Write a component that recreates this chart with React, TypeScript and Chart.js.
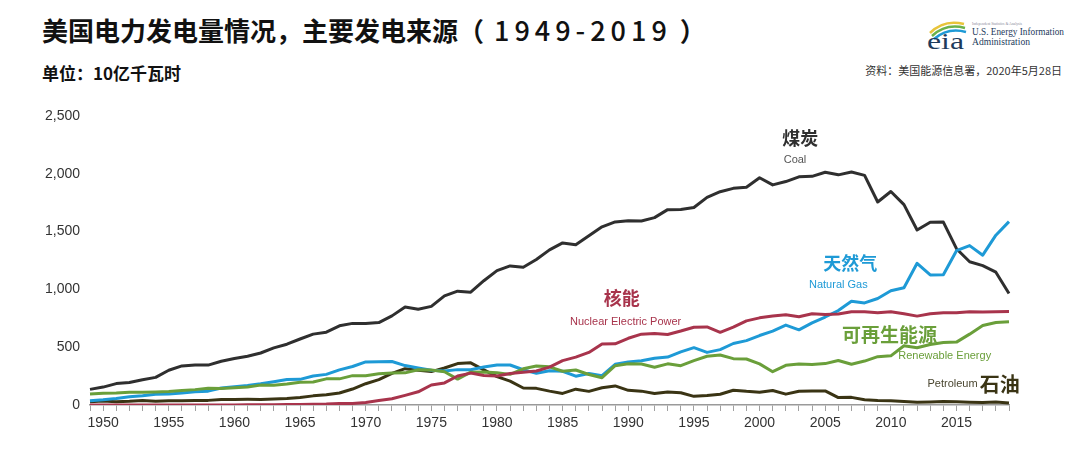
import { useEffect, useRef } from "react";
import { Chart, registerables } from "chart.js";

Chart.register(...registerables);

// 年份 1949-2019
const years: number[] = [];
for (let y = 1949; y <= 2019; y++) years.push(y);

// 单位：10亿千瓦时
const coal = [
  135, 155, 185, 195, 219, 239, 301, 338, 346, 345, 378, 403, 422, 450, 494, 526, 571, 613, 630, 685, 706,
  704, 713, 771, 848, 828, 853, 944, 985, 976, 1075, 1162, 1203, 1192, 1259, 1342, 1402, 1386, 1464, 1541,
  1584, 1594, 1592, 1621, 1690, 1691, 1709, 1796, 1845, 1874, 1884, 1966, 1904, 1933, 1974, 1978, 2013,
  1991, 2016, 1986, 1756, 1847, 1733, 1514, 1581, 1582, 1352, 1239, 1206, 1149, 965,
];
const naturalGas = [
  37, 45, 57, 72, 81, 93, 95, 104, 114, 120, 147, 158, 169, 184, 202, 220, 222, 251, 265, 304, 333, 373,
  374, 376, 341, 320, 300, 295, 306, 305, 329, 346, 346, 305, 274, 297, 292, 249, 273, 253, 352, 373, 382,
  404, 415, 460, 496, 455, 479, 532, 557, 601, 639, 691, 650, 711, 761, 817, 897, 883, 921, 988, 1014,
  1226, 1125, 1127, 1335, 1379, 1296, 1469, 1586,
];
const nuclear = [
  0, 0, 0, 0, 0, 0, 0, 0, 0, 0.2, 0.2, 0.5, 1.7, 2.3, 3.2, 3.3, 3.7, 5.5, 7.7, 12.5, 13.9, 21.8, 38.1,
  54.1, 83.5, 114, 173, 191, 251, 276, 255, 251, 273, 283, 294, 328, 384, 414, 455, 527, 529, 577, 613,
  619, 610, 640, 673, 675, 629, 673, 728, 754, 769, 780, 764, 789, 782, 787, 806, 806, 799, 807, 790, 769,
  789, 797, 797, 806, 805, 807, 809,
];
const renewable = [
  95, 102, 104, 110, 110, 113, 117, 125, 133, 145, 142, 150, 156, 172, 170, 181, 197, 199, 226, 226, 254,
  253, 270, 277, 278, 305, 303, 288, 224, 284, 285, 280, 265, 313, 337, 330, 292, 303, 264, 236, 340, 357,
  354, 327, 356, 340, 384, 422, 433, 401, 398, 356, 288, 343, 355, 351, 358, 385, 352, 380, 418, 425, 513,
  495, 523, 540, 544, 613, 687, 714, 720,
];
const petroleum = [
  29, 34, 29, 32, 38, 32, 37, 37, 40, 40, 47, 48, 49, 48, 52, 57, 65, 79, 89, 104, 138, 184, 220, 274, 314,
  301, 289, 320, 358, 365, 304, 246, 206, 147, 144, 120, 100, 137, 118, 149, 165, 127, 120, 100, 113, 106,
  75, 82, 93, 128, 118, 111, 125, 94, 119, 121, 122, 64, 66, 46, 39, 37, 30, 23, 27, 30, 28, 24, 21, 25, 18,
];

const yTicks = [0, 500, 1000, 1500, 2000, 2500];

const COAL = "#2f2f2f";
const GAS = "#1e9ad6";
const NUC = "#a8344c";
const REN = "#6a9f3a";
const OIL = "#3a3414";

// 图内标注：文字、颜色、字号、粗细、锚点（年份, 数值）
const notes = [
  { text: "煤炭", color: COAL, size: 18, bold: true, year: 2003.1, value: 2310 },
  { text: "Coal", color: "#555", size: 11, bold: false, year: 2002.7, value: 2119 },
  { text: "天然气", color: GAS, size: 18, bold: true, year: 2006.9, value: 1228 },
  { text: "Natural Gas", color: GAS, size: 11, bold: false, year: 2006.0, value: 1038 },
  { text: "核能", color: NUC, size: 18, bold: true, year: 1989.5, value: 926 },
  { text: "Nuclear Electric Power", color: NUC, size: 11, bold: false, year: 1989.8, value: 718 },
  { text: "可再生能源", color: REN, size: 19, bold: true, year: 2009.9, value: 606 },
  { text: "Renewable Energy", color: REN, size: 11, bold: false, year: 2014.1, value: 424 },
  { text: "Petroleum", color: "#4a4630", size: 11, bold: false, year: 2014.7, value: 182 },
  { text: "石油", color: OIL, size: 20, bold: true, year: 2018.3, value: 182 },
];

const notesPlugin = {
  id: "notes",
  afterDatasetsDraw(chart: any) {
    const { ctx, scales } = chart;
    ctx.save();
    ctx.textAlign = "center";
    ctx.textBaseline = "middle";
    for (const n of notes) {
      const x = scales.x.getPixelForValue(n.year - years[0]);
      const y = scales.y.getPixelForValue(n.value);
      ctx.font = `${n.bold ? "bold " : ""}${n.size}px ${
        n.bold ? '"Noto Sans CJK SC"' : '"Liberation Sans", Arial'
      }`;
      ctx.fillStyle = n.color;
      ctx.fillText(n.text, x, y);
    }
    ctx.restore();
  },
};

function line(label: string, data: number[], color: string) {
  return {
    label,
    data,
    borderColor: color,
    backgroundColor: color,
    borderWidth: 3,
    pointRadius: 0,
    tension: 0,
    borderJoinStyle: "round" as const,
  };
}

function EiaLogo() {
  return (
    <svg width="160" height="40" viewBox="0 0 160 40" style={{ position: "absolute", left: 918, top: 16 }}>
      <path d="M12 17 Q26 3 46 8" stroke="#e8c43a" strokeWidth="2.5" fill="none" />
      <path d="M14 20 Q28 7 47 12" stroke="#6bb24a" strokeWidth="2.5" fill="none" />
      <path d="M16 23 Q30 11 48 16" stroke="#1e9ad6" strokeWidth="2.5" fill="none" />
      <text x="9" y="33" fontFamily="Liberation Serif, serif" fontSize="23" fill="#1d3b5c" textLength="37" lengthAdjust="spacingAndGlyphs">
        eia
      </text>
      <text x="54" y="9" fontFamily="Liberation Serif, serif" fontSize="3.6" fill="#889" textLength="50" lengthAdjust="spacingAndGlyphs">
        Independent Statistics &amp; Analysis
      </text>
      <text x="54" y="19" fontFamily="Liberation Serif, serif" fontSize="10" fill="#1d3b5c" textLength="92" lengthAdjust="spacingAndGlyphs">
        U.S. Energy Information
      </text>
      <text x="54" y="29" fontFamily="Liberation Serif, serif" fontSize="10" fill="#1d3b5c" textLength="58" lengthAdjust="spacingAndGlyphs">
        Administration
      </text>
    </svg>
  );
}

export default function App() {
  const canvasRef = useRef<HTMLCanvasElement>(null);
  const chartRef = useRef<Chart | null>(null);

  useEffect(() => {
    if (!canvasRef.current) return;
    if (chartRef.current) chartRef.current.destroy();
    const ctx = canvasRef.current.getContext("2d");
    if (!ctx) return;

    chartRef.current = new Chart(ctx, {
      type: "line",
      data: {
        labels: years.map(String),
        datasets: [
          line("Nuclear Electric Power", nuclear, NUC),
          line("Renewable Energy", renewable, REN),
          line("Natural Gas", naturalGas, GAS),
          line("Petroleum", petroleum, OIL),
          line("Coal", coal, COAL),
        ],
      },
      options: {
        animation: false,
        responsive: true,
        maintainAspectRatio: false,
        layout: { padding: { left: 0, right: 71, top: 26, bottom: 0 } },
        plugins: {
          legend: { display: false },
          tooltip: { enabled: false },
        },
        scales: {
          x: {
            type: "category",
            offset: false,
            afterFit: (s: any) => {
              s.height = 57;
            },
            border: { display: true, color: "#9a9a9a", width: 1.5 },
            grid: {
              display: true,
              drawOnChartArea: false,
              drawTicks: true,
              tickLength: 6,
              color: "#a0a0a0",
            },
            ticks: {
              autoSkip: false,
              maxRotation: 0,
              padding: 4,
              color: "#333",
              font: { family: '"Liberation Sans", Arial', size: 14 },
              callback: (_v: any, i: number) => (years[i] % 5 === 0 ? String(years[i]) : ""),
            },
          },
          y: {
            min: yTicks[0],
            max: yTicks[yTicks.length - 1],
            afterFit: (s: any) => {
              s.width = 90;
            },
            afterBuildTicks: (s: any) => {
              s.ticks = yTicks.map((v) => ({ value: v }));
            },
            border: { display: false },
            grid: { display: false, drawTicks: false },
            ticks: {
              padding: 10,
              color: "#333",
              font: { family: '"Liberation Sans", Arial', size: 14 },
              callback: (v: any) => Number(v).toLocaleString("en-US"),
            },
          },
        },
      },
      plugins: [notesPlugin],
    });

    return () => {
      chartRef.current?.destroy();
      chartRef.current = null;
    };
  }, []);

  return (
    <div
      style={{
        position: "absolute",
        left: 0,
        top: 0,
        width: 1080,
        height: 462,
        background: "#fff",
        overflow: "hidden",
        fontFamily: '"Noto Sans CJK SC", sans-serif',
      }}
    >
      <div
        style={{
          position: "absolute",
          left: 42,
          top: 12,
          fontSize: 26,
          fontWeight: 700,
          color: "#111",
          whiteSpace: "nowrap",
          lineHeight: "36px",
        }}
      >
        美国电力发电量情况，主要发电来源（
        <span style={{ fontWeight: 500, fontSize: 27, letterSpacing: 5, margin: "0 8px 0 10px" }}>1949-2019</span>）
      </div>
      <div
        style={{
          position: "absolute",
          left: 42,
          top: 61,
          fontSize: 17,
          fontWeight: 700,
          color: "#111",
          whiteSpace: "nowrap",
          lineHeight: "24px",
        }}
      >
        单位：10亿千瓦时
      </div>
      <EiaLogo />
      <div
        style={{
          position: "absolute",
          right: 18,
          top: 61,
          fontSize: 11,
          color: "#333",
          whiteSpace: "nowrap",
          lineHeight: "18px",
        }}
      >
        资料：美国能源信息署，2020年5月28日
      </div>
      <div style={{ position: "absolute", left: 0, top: 90, width: 1080, height: 372 }}>
        <canvas ref={canvasRef} />
      </div>
    </div>
  );
}
